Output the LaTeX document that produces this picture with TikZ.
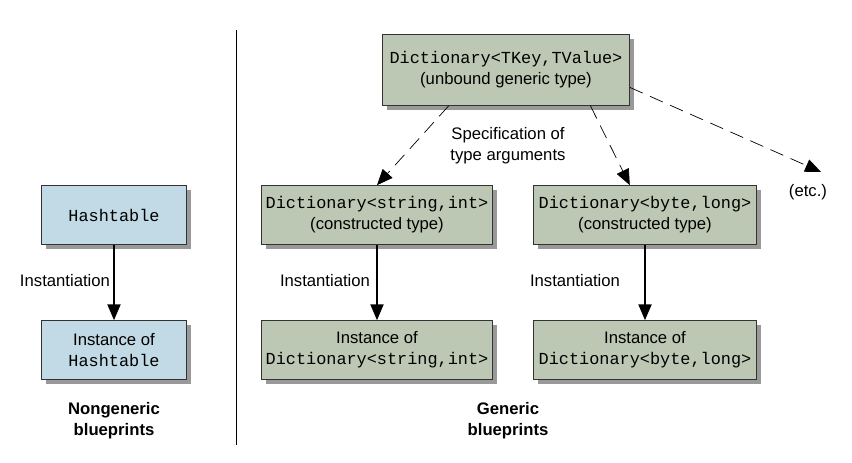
\documentclass[tikz,border=0pt]{standalone}
\usepackage{fontspec}
\setmainfont{Liberation Sans}
\setmonofont{Liberation Mono}
\usetikzlibrary{positioning,shadows,arrows.meta}
\definecolor{boxgreen}{RGB}{188,200,180}
\definecolor{boxblue}{RGB}{193,218,229}
\newcommand{\code}[1]{{\ttfamily\fontsize{9.6}{12}\selectfont #1}}
\begin{document}
\begin{tikzpicture}[x=0.02cm,y=-0.02cm,
  box/.style={draw=black!80,thin,minimum height=1.18cm,align=center,inner sep=2pt,
    font=\fontsize{9.5}{12}\selectfont,
    drop shadow={shadow xshift=2.5pt,shadow yshift=-2.5pt,opacity=.8}},
  gbox/.style={box,fill=boxgreen,minimum width=4.55cm},
  bbox/.style={box,fill=boxblue,minimum width=2.9cm},
  inst/.style={-{Triangle[length=9pt,width=7.5pt]},thick},
  spec/.style={-{Triangle[length=9pt,width=7.5pt]},thin,dash pattern=on 8pt off 4.5pt},
  txt/.style={font=\fontsize{9.5}{12}\selectfont,align=center},
  head/.style={font=\fontsize{9.5}{12}\selectfont\bfseries,align=center}]
  \useasboundingbox (0,0) rectangle (852,463);

  % nongeneric side
  \node[bbox] (h1) at (114,215) {\code{Hashtable}};
  \node[bbox] (h2) at (114,350) {Instance of\\\code{Hashtable}};
  \draw[inst] (h1) -- (h2);
  \node[txt] (hlbl) at (65,281) {Instantiation};
  \node[head] (hhead) at (114,421) {Nongeneric\\blueprints};

  \draw[thin] (236,30) -- (236,445);

  % generic side
  \node[gbox,minimum width=4.94cm,minimum height=1.42cm] (top) at (506,70) {\code{Dictionary<TKey,TValue>}\\(unbound generic type)};
  \node[gbox,minimum width=4.62cm] (d1) at (377,215) {\code{Dictionary<string,int>}\\(constructed type)};
  \node[gbox,minimum width=4.46cm] (d2) at (645,215) {\code{Dictionary<byte,long>}\\(constructed type)};
  \node[gbox,minimum width=4.62cm] (i1) at (377,350) {Instance of\\\code{Dictionary<string,int>}};
  \node[gbox,minimum width=4.46cm] (i2) at (645,350) {Instance of\\\code{Dictionary<byte,long>}};
  \node[txt] (etc) at (808,192) {(etc.)};
  \coordinate (etcend) at (821,172);

  \draw[spec] (top.212) -- (d1.north);
  \draw[spec] (top.337) -- (d2.117);
  \draw[spec] (top.352) -- (etcend);
  \node[txt] (speclbl) at (508,146) {Specification of\\type arguments};

  \draw[inst] (d1) -- (i1);
  \draw[inst] (d2) -- (i2);
  \node[txt] (ilbl1) at (325,281) {Instantiation};
  \node[txt] (ilbl2) at (575,281) {Instantiation};
  \node[head] (ghead) at (508,421) {Generic\\blueprints};
\end{tikzpicture}
\end{document}
